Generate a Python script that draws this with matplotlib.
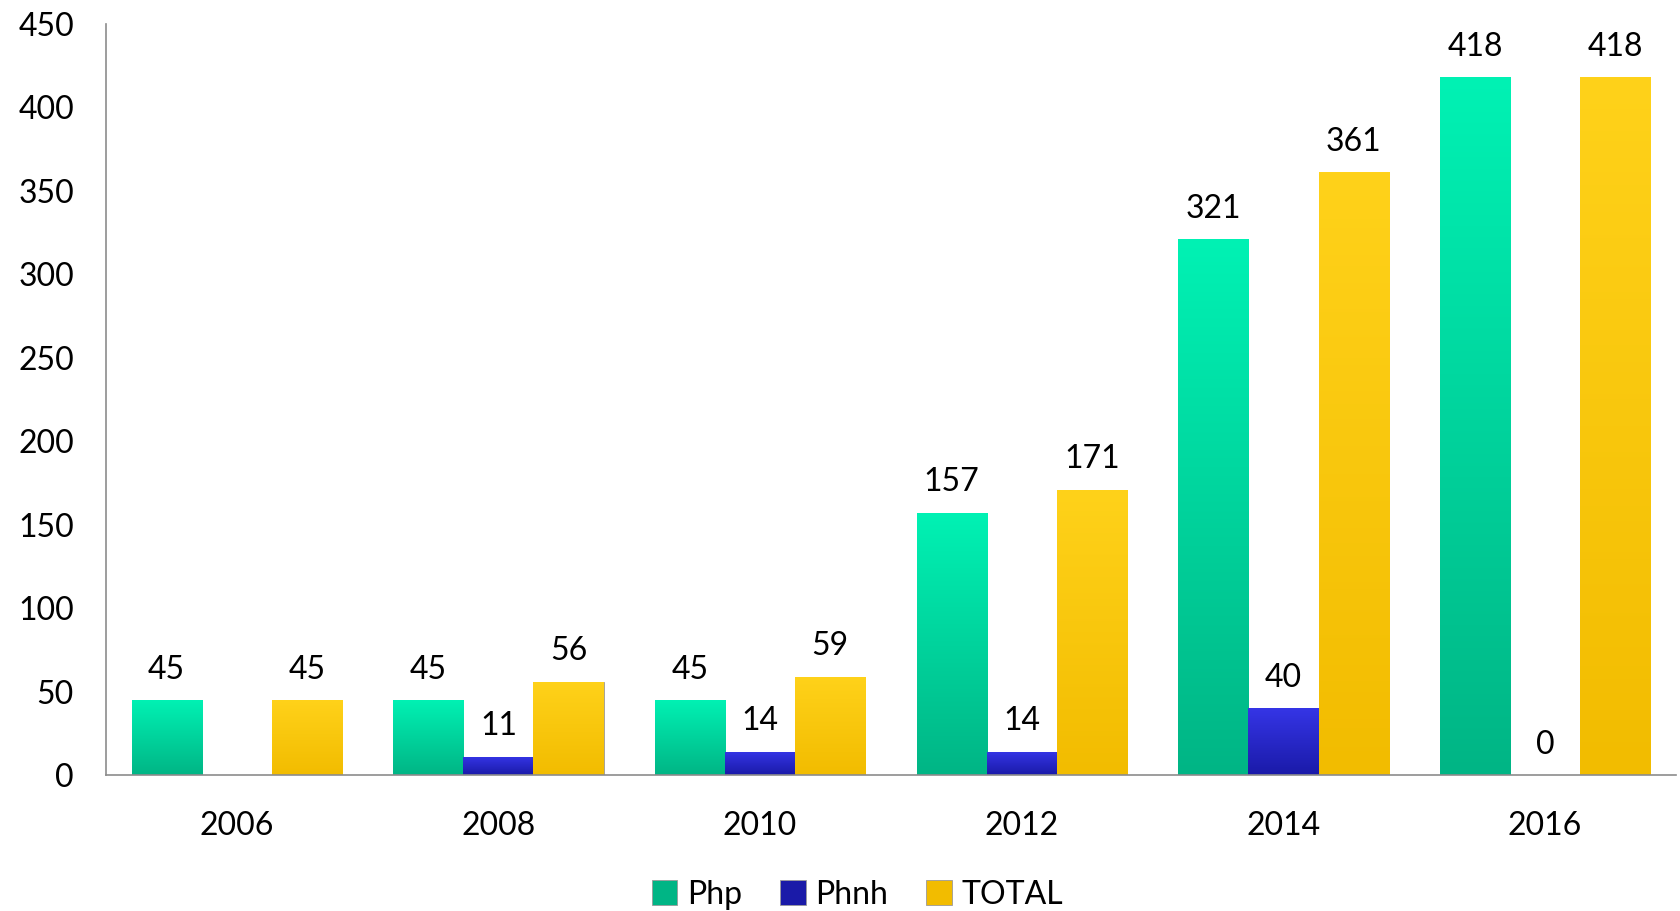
import numpy as np
import matplotlib
matplotlib.use("Agg")
import matplotlib.pyplot as plt
from matplotlib.colors import LinearSegmentedColormap

# chart data
years = ["2006", "2008", "2010", "2012", "2014", "2016"]
php = [45, 45, 45, 157, 321, 418]
phnh = [np.nan, 11, 14, 14, 40, 0]   # 2006 has no value
total = [45, 56, 59, 171, 361, 418]

series = [
    ("Php", php, ("#00F2B4", "#00B585")),
    ("Phnh", phnh, ("#3535E6", "#1A1AA8")),
    ("TOTAL", total, ("#FFD21A", "#F2BC00")),
]

plt.rcParams['font.family'] = ['Lato', 'DejaVu Sans']

fig = plt.figure(figsize=(16.81, 9.11), dpi=100)
ax = fig.add_axes([0.063, 0.149, 0.934, 0.825])

x = np.arange(len(years))
width = 0.268

handles = []
for i, (name, vals, (top, bottom)) in enumerate(series):
    offs = (i - 1) * width
    v = np.nan_to_num(np.array(vals, dtype=float))
    bars = ax.bar(x + offs, v, width, color=bottom, edgecolor="#9a9a9a",
                  linewidth=0.6, label=name, zorder=2)
    cmap = LinearSegmentedColormap.from_list(name, [bottom, top])
    grad = np.linspace(0, 1, 256).reshape(-1, 1)
    for b, val in zip(bars, vals):
        if np.isnan(val):
            continue
        h = b.get_height()
        if h > 0:
            im = ax.imshow(grad, cmap=cmap, aspect="auto", origin="lower",
                           extent=[b.get_x(), b.get_x() + b.get_width(), 0, h],
                           zorder=2.5)
            im.set_clip_path(b)
        ax.annotate(f"{int(val)}", (b.get_x() + b.get_width() / 2, h),
                    xytext=(0, 22), textcoords="offset points",
                    ha="center", va="center", fontsize=23)
    handles.append(bars)

ax.set_xlim(-0.5, len(years) - 0.5)
ax.set_ylim(0, 450)
ax.set_yticks(range(0, 451, 50))
ax.set_xticks(x)
ax.set_xticklabels(years)
ax.tick_params(axis="both", length=0, labelsize=23)
ax.tick_params(axis="y", pad=23)
ax.tick_params(axis="x", pad=26)
for s in ["top", "right"]:
    ax.spines[s].set_visible(False)
for s in ["left", "bottom"]:
    ax.spines[s].set_color("#8c8c8c")
    ax.spines[s].set_linewidth(1.2)

fig.legend(handles=handles, loc="lower center", bbox_to_anchor=(0.51, -0.03),
           ncol=3, frameon=False, fontsize=23, handlelength=0.8,
           handleheight=0.8, handletextpad=0.3, columnspacing=1.2)

fig.savefig("out.png", dpi=100)
